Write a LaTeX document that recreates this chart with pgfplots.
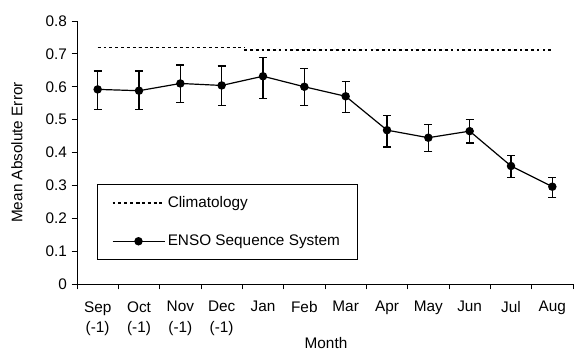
\documentclass[border=0pt]{standalone}
\usepackage{pgfplots}
\pgfplotsset{compat=1.18}
\usepackage{pgfplotstable}
\usepackage{fontspec}
\setmainfont{Liberation Sans}
\pgfplotstableread{
x y ep em
0 0.592 0.056 0.061
1 0.588 0.060 0.057
2 0.610 0.056 0.057
3 0.604 0.059 0.062
4 0.632 0.057 0.068
5 0.600 0.056 0.058
6 0.571 0.046 0.050
7 0.468 0.044 0.051
8 0.445 0.040 0.041
9 0.465 0.035 0.036
10 0.359 0.031 0.035
11 0.296 0.027 0.032
}\enso
\pgfplotstableread{
x y
0 0.719
1 0.719
2 0.719
3 0.719
3.55 0.719
}\climA
\pgfplotstableread{
x y
3.55 0.711
4 0.711
5 0.711
6 0.711
7 0.711
8 0.711
9 0.711
10 0.711
11 0.711
}\climB
\begin{document}
\begin{tikzpicture}[font=\fontsize{11.5}{13.5}\selectfont]
\useasboundingbox (-57.75pt,-49.5pt) rectangle (373.5pt,213pt);
\begin{axis}[
  at={(0,0)}, anchor=south west,
  scale only axis, width=372pt, height=197.25pt,
  xmin=-0.5, xmax=11.5, ymin=0, ymax=0.8,
  axis x line*=bottom, axis y line*=left,
  axis line style={black, line width=0.6pt},
  xtick={0,...,11},
  xticklabels={{Sep\\(-1)},{Oct\\(-1)},{Nov\\(-1)},{Dec\\(-1)},Jan,Feb,Mar,Apr,May,Jun,Jul,Aug},
  xticklabel style={align=center, anchor=north, yshift=-5.5pt, font=\fontsize{11.5}{15.5}\selectfont},
  major x tick style={draw=none},
  minor xtick={-0.5,0.5,...,11.5},
  minor x tick style={black, line width=0.6pt},
  minor tick length=4pt,
  ytick={0,0.1,...,0.8},
  yticklabels={0,0.1,0.2,0.3,0.4,0.5,0.6,0.7,0.8},
  ytick style={black, line width=0.6pt},
  major tick length=4pt,
  tick align=outside,
  tick pos=left,
  every axis y label/.style={at={(axis description cs:-0.121,0.5)}, rotate=90, anchor=center},
  every axis x label/.style={at={(axis description cs:0.502,-0.224)}, anchor=center},
  ylabel={Mean Absolute Error},
  xlabel={Month},
  clip=false,
  legend style={at={(axis description cs:0.040,0.380)}, anchor=north west,
    draw=black, line width=0.6pt, inner xsep=11pt, inner ysep=7pt, row sep=15pt,
    font=\fontsize{11.5}{13.5}\selectfont, cells={anchor=west}},
  legend cell align=left,
  legend image code/.code={\draw[mark repeat=2,mark phase=2,#1] plot coordinates {(0pt,0pt) (19.5pt,0pt) (39pt,0pt)};},
]
\addplot[black, line width=0.9pt, dash pattern=on 2.2pt off 2.2pt] table[x=x,y=y]{\climA};
\addlegendentry{Climatology}
\addplot[black, line width=1.6pt, dash pattern=on 2pt off 2.3pt, forget plot] table[x=x,y=y]{\climB};
\addplot[black, line width=0.9pt, mark=*, mark size=2.7pt,
  error bars/.cd, y dir=both, y explicit, error bar style={line width=1pt}, error mark options={rotate=90, mark size=3pt, line width=1pt}]
  table[x=x,y=y,y error plus=ep,y error minus=em]{\enso};
\addlegendentry{ENSO Sequence System\hspace{12pt}}
\end{axis}
\end{tikzpicture}
\end{document}
